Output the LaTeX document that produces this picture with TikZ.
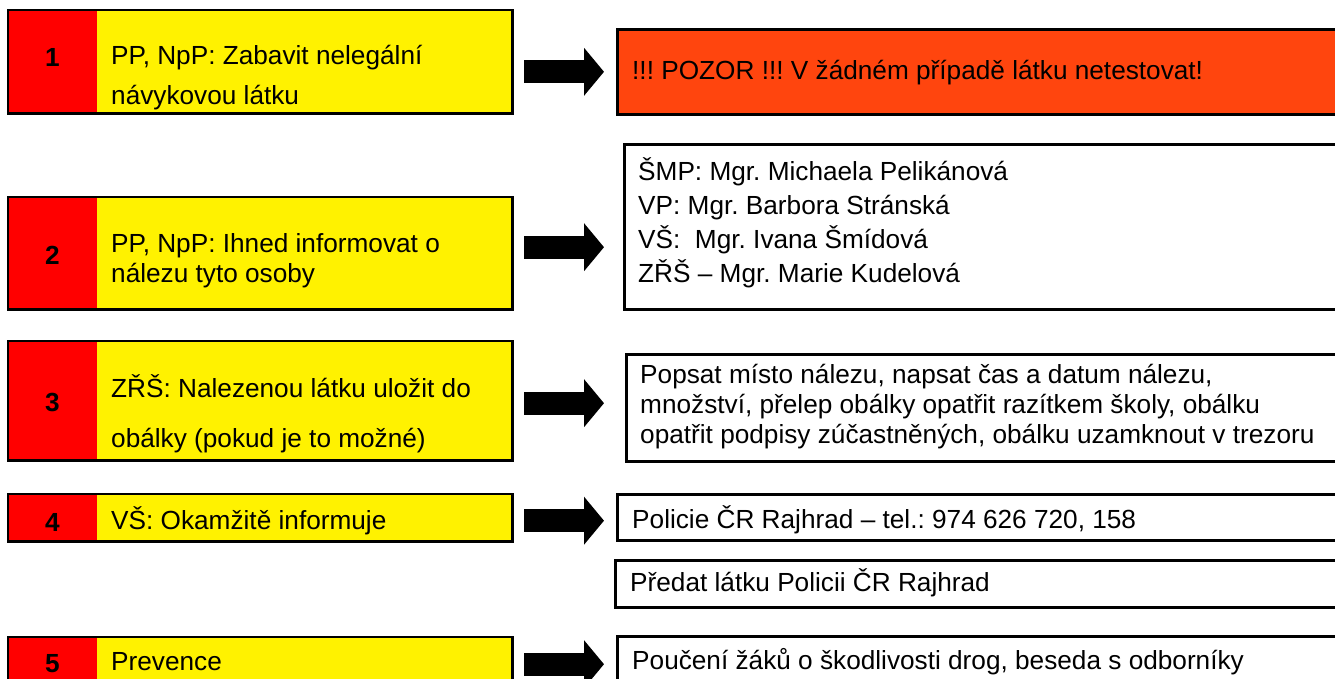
\documentclass[tikz,border=0pt]{standalone}
\usepackage{fontspec}
\setmainfont{Liberation Sans}
\usetikzlibrary{arrows.meta}
\definecolor{alarm}{RGB}{255,69,14}
\frenchspacing

\begin{document}
\begin{tikzpicture}[x=1pt,y=-1pt,
    font=\fontsize{26.2}{31}\selectfont,
    frame/.style={line width=2.6pt},
    num/.style={fill=red,anchor=north west,minimum width=89pt,inner sep=0pt},
    task/.style={fill=yellow,anchor=north west,minimum width=415pt,inner sep=0pt},
    note/.style={draw,line width=2.6pt,anchor=north west,inner sep=0pt},
    digit/.style={anchor=base,inner sep=0pt,font=\fontsize{26.2}{31}\selectfont\bfseries},
    txt/.style={anchor=base west,inner sep=0pt,align=left,font=\fontsize{26.2}{#1}\selectfont},
    txt/.default=31pt,
    bigarrow/.style={line width=23pt,-{Triangle[length=20pt,width=47pt]},shorten <=12pt}]

  \useasboundingbox (0,0) rectangle (1335,679);
  \clip (0,0) rectangle (1335,679);

  %% 1
  \node[num,minimum height=103pt] (n1) at (8,10) {};
  \node[task,minimum height=103pt] (t1) at (97,10) {};
  \draw[frame] (n1.north west) rectangle (t1.south east);
  \node[digit] (d1) at (52.5,67) {1};
  \node[txt=40pt] (x1) at (111,105) {PP, NpP: Zabavit nelegální\\návykovou látku};
  \node[note,fill=alarm,minimum width=729pt,minimum height=85pt] (r1) at (616,28) {};
  \node[txt] (y1) at (632,80) {!!! POZOR !!! V žádném případě látku netestovat!};

  %% 2
  \node[num,minimum height=112pt] (n2) at (8,197) {};
  \node[task,minimum height=112pt] (t2) at (97,197) {};
  \draw[frame] (n2.north west) rectangle (t2.south east);
  \node[digit] (d2) at (52.5,264) {2};
  \node[txt=30pt] (x2) at (111,282) {PP, NpP: Ihned informovat o\\nálezu tyto osoby};
  \node[note,minimum width=722pt,minimum height=165pt] (r2) at (623,143) {};
  \node[txt=34pt] (y2) at (638,282) {ŠMP: Mgr. Michaela Pelikánová\\VP: Mgr. Barbora Stránská\\VŠ:\ \ Mgr. Ivana Šmídová\\ZŘŠ – Mgr. Marie Kudelová};

  %% 3
  \node[num,minimum height=119pt] (n3) at (8,341) {};
  \node[task,minimum height=119pt] (t3) at (97,341) {};
  \draw[frame] (n3.north west) rectangle (t3.south east);
  \node[digit] (d3) at (52.5,411) {3};
  \node[txt=50pt] (x3) at (111,447) {ZŘŠ: Nalezenou látku uložit do\\obálky (pokud je to možné)};
  \node[note,minimum width=720pt,minimum height=107pt] (r3) at (625,353) {};
  \node[txt=30pt] (y3) at (640,443) {Popsat místo nálezu, napsat čas a datum nálezu,\\množství, přelep obálky opatřit razítkem školy, obálku\\opatřit podpisy zúčastněných, obálku uzamknout v trezoru};

  %% 4
  \node[num,minimum height=47pt] (n4) at (8,494) {};
  \node[task,minimum height=47pt] (t4) at (97,494) {};
  \draw[frame] (n4.north west) rectangle (t4.south east);
  \node[digit] (d4) at (52.5,531) {4};
  \node[txt] (x4) at (111,529) {VŠ: Okamžitě informuje};
  \node[note,minimum width=729pt,minimum height=46pt] (r4) at (616,493) {};
  \node[txt] (y4) at (632,528) {Policie ČR Rajhrad – tel.: 974 626 720, 158};
  \node[note,minimum width=731pt,minimum height=47pt] (p4) at (614,559) {};
  \node[txt] (z4) at (630,591) {Předat látku Policii ČR Rajhrad};

  %% 5
  \node[num,minimum height=47pt] (n5) at (8,637) {};
  \node[task,minimum height=47pt] (t5) at (97,637) {};
  \draw[frame] (n5.north west) rectangle (t5.south east);
  \node[digit] (d5) at (52.5,672) {5};
  \node[txt] (x5) at (111,670) {Prevence};
  \node[note,minimum width=729pt,minimum height=60pt] (r5) at (616,635) {};
  \node[txt] (y5) at (632,669) {Poučení žáků o škodlivosti drog, beseda s odborníky};

  %% arrows
  \coordinate (a1) at (t1.east |- r1.west);
  \coordinate (a2) at ([yshift=6pt]t2.east);
  \coordinate (a3) at ([yshift=-2.5pt]t3.east);
  \coordinate (a4) at ([yshift=-3pt]t4.east);
  \coordinate (a5) at ([yshift=-3.5pt]t5.east);
  \foreach \i/\s in {1/12,2/19,3/21,4/12,5/12}
    \draw[bigarrow,shorten >=\s pt] (a\i) -- (a\i -| r\i.west);
\end{tikzpicture}
\end{document}
